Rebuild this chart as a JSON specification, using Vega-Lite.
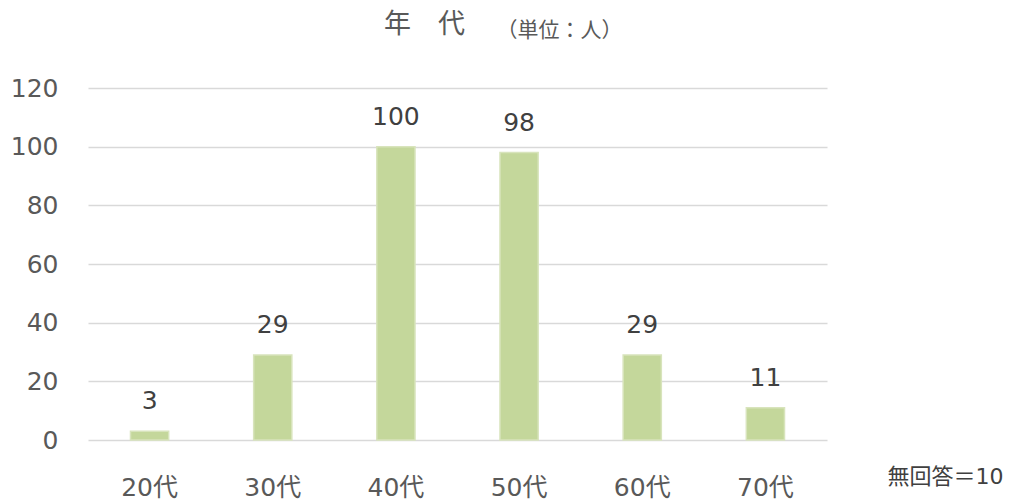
{
  "$schema": "https://vega.github.io/schema/vega-lite/v6.json",
  "autosize": "none",
  "padding": {"left": 88, "top": 88, "right": 188, "bottom": 61},
  "width": 739,
  "height": 352,
  "background": "white",
  "config": {
    "view": {"stroke": null},
    "font": "DejaVu Sans, Noto Sans CJK JP"
  },
  "title": {
    "text": "年　代",
    "font": "Noto Sans CJK JP",
    "fontSize": 27,
    "fontWeight": "normal",
    "color": "#595959",
    "anchor": "middle",
    "frame": "group",
    "dx": -33,
    "offset": -20
  },
  "data": {
    "values": [
      {"age": "20代", "count": 3},
      {"age": "30代", "count": 29},
      {"age": "40代", "count": 100},
      {"age": "50代", "count": 98},
      {"age": "60代", "count": 29},
      {"age": "70代", "count": 11}
    ]
  },
  "encoding": {
    "x": {
      "field": "age",
      "type": "nominal",
      "sort": null,
      "scale": {"paddingInner": 0.69, "paddingOuter": 0.345},
      "axis": {
        "title": "無回答＝10",
        "titleFontSize": 22,
        "titleFontWeight": "normal",
        "titleColor": "#404040",
        "titleX": 857,
        "titleY": 36,
        "titleAlign": "center",
        "titleBaseline": "middle",
        "titleAnchor": null,
        "labelAngle": 0,
        "labelFontSize": 25,
        "labelColor": "#595959",
        "labelBaseline": "alphabetic",
        "labelPadding": 55,
        "ticks": false,
        "domain": false,
        "grid": false
      }
    },
    "y": {
      "field": "count",
      "type": "quantitative",
      "scale": {"domain": [0, 120], "nice": false},
      "axis": {
        "title": "（単位：人）",
        "titleFont": "Noto Sans CJK JP",
        "titleFontSize": 21,
        "titleFontWeight": "normal",
        "titleColor": "#595959",
        "titleAngle": 0,
        "titleX": 471,
        "titleY": -58,
        "titleAlign": "center",
        "titleBaseline": "middle",
        "titleAnchor": null,
        "values": [0, 20, 40, 60, 80, 100, 120],
        "labelFontSize": 25,
        "labelColor": "#595959",
        "labelPadding": 30,
        "ticks": false,
        "domain": false,
        "grid": true,
        "gridColor": "#d9d9d9",
        "gridWidth": 1.5
      }
    }
  },
  "layer": [
    {
      "mark": {"type": "bar", "color": "#c4d79b", "stroke": "#d8e4bc", "strokeWidth": 1.5}
    },
    {
      "mark": {"type": "text", "fontSize": 25, "color": "#404040", "baseline": "alphabetic", "dy": -22},
      "encoding": {"text": {"field": "count", "type": "quantitative"}}
    }
  ]
}
